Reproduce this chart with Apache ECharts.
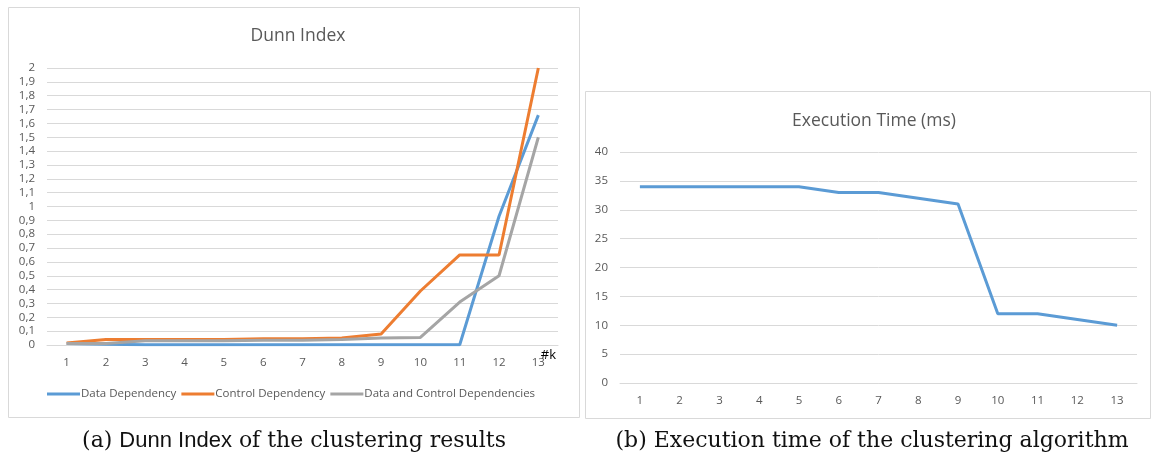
<!DOCTYPE html>
<html><head><meta charset="utf-8">
<script src="https://cdn.jsdelivr.net/npm/echarts@6/dist/echarts.min.js"></script>
<style>html,body{margin:0;padding:0;background:#fff}#c{width:1157px;height:464px}</style>
</head><body><div id="c"></div>
<script>
const categories = ['1','2','3','4','5','6','7','8','9','10','11','12','13'];
const dataDependency = [0.01,0.005,0.002,0.002,0.002,0.002,0.002,0.002,0.002,0.002,0.002,0.93,1.66];
const controlDependency = [0.015,0.04,0.04,0.04,0.04,0.045,0.045,0.05,0.08,0.39,0.65,0.65,2.0];
const bothDependencies = [0.01,0.01,0.03,0.03,0.03,0.035,0.035,0.04,0.05,0.055,0.31,0.5,1.5];
const executionTime = [34,34,34,34,34,33,33,32,31,12,12,11,10];
const dunnTicks = ['0','0,1','0,2','0,3','0,4','0,5','0,6','0,7','0,8','0,9','1','1,1','1,2','1,3','1,4','1,5','1,6','1,7','1,8','1,9','2'];
const timeTicks = ['0','5','10','15','20','25','30','35','40'];

const FONT = '"Open Sans", "Liberation Sans", sans-serif';
const gridColor = '#d9d9d9';
const labelColor = '#595959';

const chart = echarts.init(document.getElementById('c'));
function xAxisCfg(grid, extra) {
  return Object.assign({
    type: 'category', gridIndex: grid, data: categories, boundaryGap: true,
    axisLine: {show: true, lineStyle: {color: gridColor, width: 1}},
    axisTick: {show: false},
    axisLabel: {color: labelColor, fontSize: 11.5, fontFamily: FONT, margin: 12}
  }, extra || {});
}
function yAxisCfg(grid, max, interval, ticks) {
  return {
    type: 'value', gridIndex: grid, min: 0, max: max, interval: interval,
    axisLine: {show: false}, axisTick: {show: false},
    splitLine: {lineStyle: {color: gridColor, width: 1}},
    axisLabel: {color: labelColor, fontSize: 11.5, fontFamily: FONT, margin: 12,
      formatter: v => ticks[Math.round(v / interval)]}
  };
}
chart.setOption({
  animation: false,
  title: [
    {text: 'Dunn Index', left: 293, top: 22, textAlign: 'center',
     textStyle: {color: labelColor, fontSize: 17.5, fontWeight: 'normal', fontFamily: FONT}},
    {text: 'Execution Time (ms)', left: 869, top: 107, textAlign: 'center',
     textStyle: {color: labelColor, fontSize: 17.5, fontWeight: 'normal', fontFamily: FONT}}
  ],
  legend: {
    data: ['Data Dependency','Control Dependency','Data and Control Dependencies'],
    left: 47, top: 388, padding: 0, icon: 'rect', itemWidth: 33, itemHeight: 3, itemGap: 5,
    textStyle: {color: labelColor, fontSize: 11.5, fontFamily: FONT, padding: [0,0,0,-4]}
  },
  grid: [
    {left: 47, right: 599, top: 68, bottom: 119},
    {left: 620, right: 20, top: 152, bottom: 81}
  ],
  xAxis: [
    xAxisCfg(0, {name: '#k', nameLocation: 'end', nameGap: -2, nameMoveOverlap: false,
      nameTextStyle: {color: '#000', fontSize: 13, fontFamily: FONT, align: 'right', verticalAlign: 'top', padding: [4,0,0,0]}}),
    xAxisCfg(1)
  ],
  yAxis: [
    yAxisCfg(0, 2, 0.1, dunnTicks),
    yAxisCfg(1, 40, 5, timeTicks)
  ],
  series: [
    {name: 'Data Dependency', type: 'line', xAxisIndex: 0, yAxisIndex: 0, data: dataDependency,
     symbol: 'none', lineStyle: {width: 3, color: '#5B9BD5'}, itemStyle: {color: '#5B9BD5'}},
    {name: 'Control Dependency', type: 'line', xAxisIndex: 0, yAxisIndex: 0, data: controlDependency,
     symbol: 'none', lineStyle: {width: 3, color: '#ED7D31'}, itemStyle: {color: '#ED7D31'}},
    {name: 'Data and Control Dependencies', type: 'line', xAxisIndex: 0, yAxisIndex: 0, data: bothDependencies,
     symbol: 'none', lineStyle: {width: 3, color: '#A5A5A5'}, itemStyle: {color: '#A5A5A5'}},
    {name: 'Execution Time', type: 'line', xAxisIndex: 1, yAxisIndex: 1, data: executionTime,
     symbol: 'none', lineStyle: {width: 3, color: '#5B9BD5'}, itemStyle: {color: '#5B9BD5'}}
  ],
  graphic: [
    {type: 'rect', shape: {x: 8.5, y: 7.5, width: 571, height: 410}, style: {fill: 'none', stroke: '#d9d9d9', lineWidth: 1}, z: -1},
    {type: 'rect', shape: {x: 585.5, y: 91.5, width: 565, height: 327}, style: {fill: 'none', stroke: '#d9d9d9', lineWidth: 1}, z: -1},
    {type: 'text', x: 294, y: 441, style: {
      text: '(a) {s|Dunn Index} of the clustering results', align: 'center', verticalAlign: 'middle',
      font: '22px "DejaVu Serif", serif', fill: '#111',
      rich: {s: {fontFamily: '"Liberation Sans", sans-serif', fontSize: 22, fill: '#111'}}}},
    {type: 'text', x: 872, y: 441, style: {
      text: '(b) Execution time of the clustering algorithm', align: 'center', verticalAlign: 'middle',
      font: '22px "DejaVu Serif", serif', fill: '#111'}}
  ]
});
</script></body></html>
